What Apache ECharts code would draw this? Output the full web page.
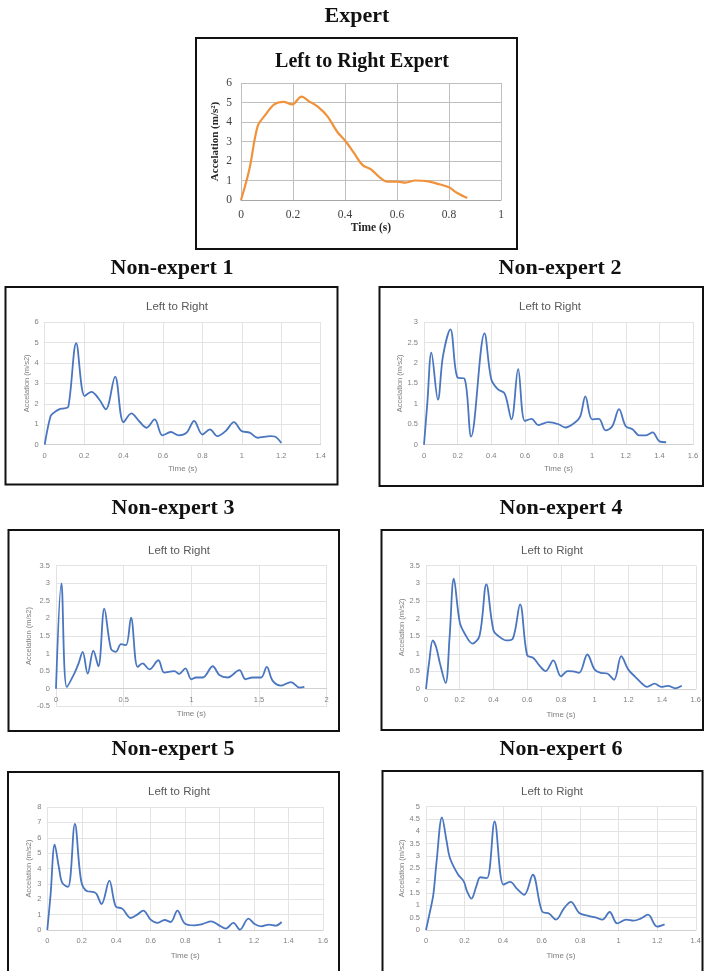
<!DOCTYPE html>
<html><head><meta charset="utf-8">
<script src="https://cdn.jsdelivr.net/npm/echarts@6/dist/echarts.min.js"></script>
<style>html,body{margin:0;padding:0;background:#fff}#c{width:704px;height:971px}</style>
</head><body><div id="c"></div>
<script>
// ---- data ----
const expertX = [0,0.032,0.064,0.09,0.128,0.164,0.196,0.233,0.262,0.294,0.332,0.37,0.403,0.435,0.467,0.5,0.53,0.563,0.6,0.633,0.67,0.716,0.754,0.8,0.83,0.87];
const expertY = [0,1.57,3.78,4.3,4.9,5.03,4.9,5.3,5.06,4.8,4.3,3.5,3.0,2.4,1.8,1.57,1.2,0.94,0.94,0.89,1.0,0.97,0.84,0.65,0.37,0.1];

const ne1X = [0,0.03,0.047,0.073,0.098,0.12,0.16,0.203,0.237,0.276,0.31,0.357,0.4,0.44,0.478,0.517,0.558,0.597,0.64,0.68,0.72,0.758,0.8,0.838,0.876,0.918,0.96,0.998,1.04,1.08,1.146,1.167,1.2];
const ne1Y = [0,1.4,1.57,1.73,1.78,1.86,4.96,2.38,2.58,2.22,1.73,3.33,1.1,1.53,1.16,0.83,1.24,0.46,0.62,0.46,0.59,1.16,0.5,0.75,0.42,0.67,1.1,0.67,0.59,0.34,0.42,0.4,0.08];

const ne2X = [0,0.02,0.044,0.083,0.113,0.157,0.2,0.24,0.28,0.36,0.4,0.44,0.48,0.52,0.56,0.6,0.64,0.68,0.74,0.8,0.84,0.9,0.93,0.96,1.0,1.04,1.08,1.12,1.16,1.2,1.24,1.28,1.32,1.36,1.4,1.44];
const ne2Y = [0,1.03,2.25,1.1,2.17,2.82,1.64,1.62,0.2,2.72,1.6,1.35,1.25,0.62,1.85,0.58,0.63,0.48,0.55,0.5,0.42,0.55,0.7,1.18,0.62,0.63,0.35,0.45,0.87,0.45,0.38,0.23,0.23,0.3,0.08,0.06];

const ne3X = [0,0.04,0.08,0.135,0.167,0.197,0.234,0.276,0.313,0.357,0.406,0.443,0.48,0.517,0.554,0.603,0.64,0.69,0.756,0.8,0.874,0.91,0.956,1.0,1.034,1.084,1.158,1.207,1.268,1.355,1.4,1.453,1.515,1.557,1.6,1.663,1.736,1.8,1.835];
const ne3Y = [0,3.0,0.05,0.43,0.72,1.05,0.43,1.08,0.64,2.28,1.14,1.05,1.27,1.24,2.02,0.62,0.72,0.55,0.81,0.46,0.5,0.42,0.58,0.27,0.32,0.32,0.64,0.39,0.32,0.53,0.27,0.32,0.32,0.62,0.23,0.09,0.19,0.03,0.05];

const ne4X = [0,0.02,0.04,0.06,0.083,0.116,0.14,0.165,0.2,0.23,0.275,0.318,0.358,0.4,0.436,0.476,0.515,0.558,0.6,0.637,0.672,0.71,0.755,0.8,0.84,0.873,0.908,0.957,1.0,1.036,1.075,1.115,1.158,1.2,1.242,1.282,1.311,1.356,1.395,1.435,1.478,1.517];
const ne4Y = [0,0.81,1.38,1.19,0.72,0.17,1.48,3.13,1.9,1.57,1.29,1.52,2.97,1.67,1.48,1.38,1.43,2.4,0.96,0.88,0.67,0.51,0.81,0.36,0.51,0.5,0.46,0.98,0.55,0.46,0.44,0.26,0.93,0.55,0.34,0.15,0.06,0.15,0.06,0.09,0.02,0.09];

const ne5X = [0,0.019,0.043,0.068,0.087,0.12,0.16,0.197,0.232,0.271,0.286,0.315,0.36,0.397,0.435,0.484,0.522,0.557,0.6,0.638,0.681,0.716,0.755,0.797,0.851,0.9,0.952,0.99,1.035,1.08,1.118,1.167,1.203,1.242,1.287,1.325,1.36];
const ne5Y = [0,2.3,5.55,4.03,3.06,2.8,6.9,3.17,2.52,2.47,2.34,1.69,3.21,1.54,1.39,0.78,1.0,1.26,0.67,0.46,0.65,0.52,1.26,0.43,0.3,0.39,0.56,0.35,0.09,0.46,0.02,0.74,0.39,0.24,0.35,0.28,0.52];

const ne6X = [0,0.021,0.038,0.055,0.083,0.107,0.124,0.167,0.196,0.213,0.236,0.261,0.282,0.316,0.356,0.402,0.437,0.471,0.51,0.554,0.602,0.64,0.674,0.717,0.752,0.795,0.838,0.88,0.915,0.953,0.992,1.039,1.078,1.113,1.152,1.199,1.238];
const ne6Y = [0,0.76,1.43,2.78,4.57,3.6,2.92,2.24,1.97,1.57,1.27,1.77,2.14,2.1,4.4,1.84,1.95,1.68,1.43,2.24,0.76,0.66,0.42,0.89,1.14,0.69,0.58,0.51,0.42,0.73,0.27,0.42,0.38,0.46,0.62,0.14,0.23];

const headings = ['Expert','Non-expert 1','Non-expert 2','Non-expert 3','Non-expert 4','Non-expert 5','Non-expert 6'];
const expertTitle = 'Left to Right Expert';
const neTitle = 'Left to Right';
const yName = 'Accelation (m/s2)';
const yNameExpert = 'Accelation (m/s²)';
const xName = 'Time (s)';

// ---- layout ----
const panels = [
  {x:expertX,y:expertY,grid:{left:241,top:83,width:260,height:117},xmax:1,xint:0.2,ymin:0,ymax:6,yint:1,box:[196,38,321,211],head:[352,0],title:[357,47],expert:true,ygap:20,xgap:22},
  {x:ne1X,y:ne1Y,grid:{left:44.7,top:322,width:276,height:122.7},xmax:1.4,xint:0.2,ymin:0,ymax:6,yint:1,box:[5.5,287,332,197.5],head:[167,252],title:[172,296],ygap:14,xgap:20},
  {x:ne2X,y:ne2Y,grid:{left:424,top:322,width:269,height:122.7},xmax:1.6,xint:0.2,ymin:0,ymax:3,yint:0.5,box:[379.5,287,323.5,199],head:[555,252],title:[545,296],ygap:18,xgap:20},
  {x:ne3X,y:ne3Y,grid:{left:56,top:565.7,width:270.7,height:140.6},xmax:2,xint:0.5,ymin:-0.5,ymax:3.5,yint:0.5,box:[8.5,530,330.5,201],head:[168,492],title:[174,540],ygap:20,xgap:21,xoff:-17.6},
  {x:ne4X,y:ne4Y,grid:{left:426,top:565.7,width:271.3,height:123.3},xmax:1.6,xint:0.2,ymin:0,ymax:3.5,yint:0.5,box:[381.5,530,321.5,200],head:[556,492],title:[547,540],ygap:18,xgap:22},
  {x:ne5X,y:ne5Y,grid:{left:47.3,top:807,width:275.7,height:123},xmax:1.6,xint:0.2,ymin:0,ymax:8,yint:1,box:[8,772,331,205],head:[168,733],title:[174,781],ygap:14,xgap:22},
  {x:ne6X,y:ne6Y,grid:{left:426,top:806.7,width:271.3,height:123.3},xmax:1.4,xint:0.2,ymin:0,ymax:5,yint:0.5,box:[382.5,771,320,205],head:[556,733],title:[547,781],ygap:18,xgap:22}
];

const grids=[],xAxes=[],yAxes=[],series=[],titles=[],graphics=[];
const fmt = v => String(Math.round(v*10)/10);
panels.forEach((p,i)=>{
  grids.push(Object.assign({containLabel:false},p.grid));
  const ex = !!p.expert;
  const labelFont = ex ? {fontFamily:'Liberation Serif',fontSize:11.5,color:'#404040'} : {fontFamily:'Liberation Sans',fontSize:7.5,color:'#7f7f7f'};
  const gridColor = ex ? '#bfbfbf' : '#e3e3e3';
  xAxes.push({type:'value',gridIndex:i,min:0,max:p.xmax,interval:p.xint,offset:p.xoff||0,
    axisLine:{show:true,onZero:false,lineStyle:{color:ex?'#a6a6a6':'#d0d0d0',width:1}},axisTick:{show:false},
    splitLine:{show:true,lineStyle:{color:gridColor,width:1}},
    axisLabel:Object.assign({margin:ex?9:7,formatter:fmt},labelFont),
    name:xName,nameLocation:'middle',nameGap:p.xgap,
    nameTextStyle: ex ? {fontFamily:'Liberation Serif',fontWeight:'bold',fontSize:11.5,color:'#262626'} : {fontFamily:'Liberation Sans',fontSize:8,color:'#7f7f7f'}});
  yAxes.push({type:'value',gridIndex:i,min:p.ymin,max:p.ymax,interval:p.yint,
    axisLine:{show:false},axisTick:{show:false},
    splitLine:{show:true,lineStyle:{color:gridColor,width:1}},
    axisLabel:Object.assign({margin:ex?9:6,formatter:fmt},labelFont),
    name:ex?yNameExpert:yName,nameLocation:'middle',nameGap:p.ygap,
    nameTextStyle: ex ? {fontFamily:'Liberation Serif',fontWeight:'bold',fontSize:11,color:'#262626'} : {fontFamily:'Liberation Sans',fontSize:7.5,color:'#7f7f7f'}});
  series.push({type:'line',xAxisIndex:i,yAxisIndex:i,data:p.x.map((v,k)=>[v,p.y[k]]),
    smooth:0.35,showSymbol:false,symbol:'none',
    lineStyle:{color:ex?'#F0923B':'#4A76C0',width:ex?2.2:1.8},animation:false});
  titles.push({text:headings[i],left:p.head[0],top:p.head[1],textAlign:'center',
    textStyle:{fontFamily:'Liberation Serif',fontWeight:'bold',fontSize:22,color:'#111'}});
  titles.push({text:ex?expertTitle:neTitle,left:p.title[0],top:p.title[1],textAlign:'center',
    textStyle: ex ? {fontFamily:'Liberation Serif',fontWeight:'bold',fontSize:20,color:'#111'} : {fontFamily:'Liberation Sans',fontWeight:'normal',fontSize:11.5,color:'#595959'}});
  graphics.push({type:'rect',shape:{x:p.box[0],y:p.box[1],width:p.box[2],height:p.box[3]},
    style:{fill:'none',stroke:'#111',lineWidth:2},silent:true,z:-1});
});

const chart = echarts.init(document.getElementById('c'),null,{renderer:'canvas'});
chart.setOption({animation:false,backgroundColor:'#fff',title:titles,grid:grids,xAxis:xAxes,yAxis:yAxes,series:series,graphic:graphics});
</script>
</body></html>
